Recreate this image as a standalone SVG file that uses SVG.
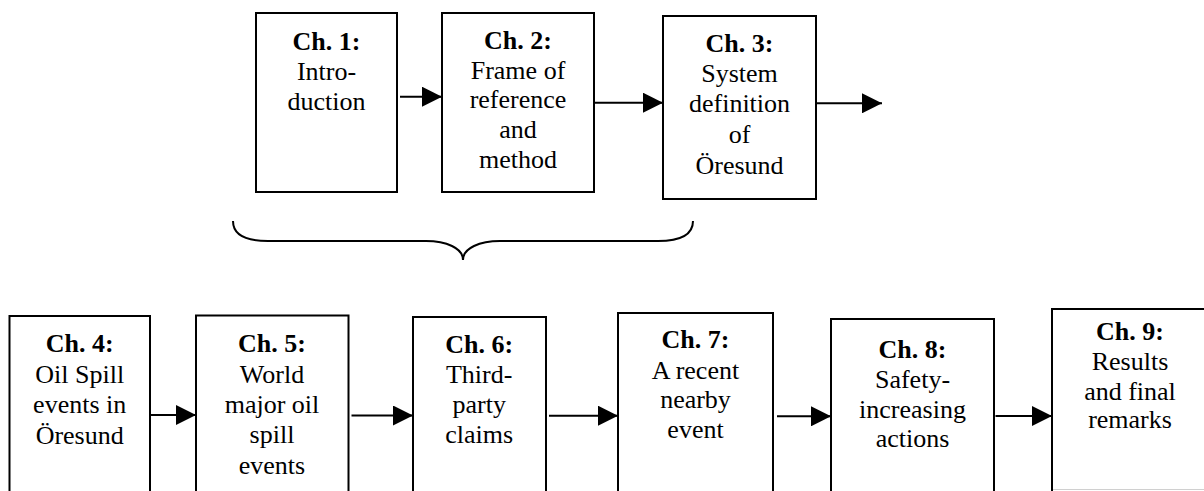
<svg xmlns="http://www.w3.org/2000/svg" width="1204" height="491" viewBox="0 0 1204 491">
  <defs>
    <marker id="arrow" viewBox="0 0 20 20" refX="20" refY="10" markerWidth="20" markerHeight="20" markerUnits="userSpaceOnUse" orient="auto">
      <path d="M0,0 L20,10 L0,20 Z" fill="#000"/>
    </marker>
    <style>
      .box { fill: #fff; stroke: #000; stroke-width: 2; }
      .lbl { font-family: "Liberation Serif", "Times New Roman", "DejaVu Serif", serif; font-size: 26px; fill: #000; text-anchor: middle; }
      .lbl .hd { font-weight: bold; }
      .conn { stroke: #000; stroke-width: 2; fill: none; }
      .conn line { marker-end: url(#arrow); }
    </style>
  </defs>
  <rect width="1204" height="491" fill="#fff"/>

  <!-- top row -->
  <g id="ch1">
    <rect class="box" x="256" y="13" width="141" height="179"/>
    <text class="lbl" x="326.5"><tspan class="hd" x="326.5" y="50">Ch. 1:</tspan><tspan x="326.5" y="80">Intro-</tspan><tspan x="326.5" y="110">duction</tspan></text>
  </g>
  <g id="ch2">
    <rect class="box" x="442" y="13" width="152" height="179"/>
    <text class="lbl" x="518"><tspan class="hd" x="518" y="49">Ch. 2:</tspan><tspan x="518" y="79">Frame of</tspan><tspan x="518" y="108">reference</tspan><tspan x="518" y="138">and</tspan><tspan x="518" y="168">method</tspan></text>
  </g>
  <g id="ch3">
    <rect class="box" x="663" y="16" width="153" height="183"/>
    <text class="lbl" x="739.5"><tspan class="hd" x="739.5" y="52">Ch. 3:</tspan><tspan x="739.5" y="82">System</tspan><tspan x="739.5" y="112">definition</tspan><tspan x="739.5" y="143">of</tspan><tspan x="739.5" y="174">Öresund</tspan></text>
  </g>

  <!-- bottom row -->
  <g id="ch4">
    <rect class="box" x="9.5" y="316" width="140.5" height="190"/>
    <text class="lbl" x="79.7"><tspan class="hd" x="79.7" y="352">Ch. 4:</tspan><tspan x="79.7" y="383">Oil Spill</tspan><tspan x="79.7" y="413">events in</tspan><tspan x="79.7" y="444">Öresund</tspan></text>
  </g>
  <g id="ch5">
    <rect class="box" x="196" y="315.5" width="152.5" height="190"/>
    <text class="lbl" x="272"><tspan class="hd" x="272" y="352">Ch. 5:</tspan><tspan x="272" y="383">World</tspan><tspan x="272" y="413">major oil</tspan><tspan x="272" y="443">spill</tspan><tspan x="272" y="474">events</tspan></text>
  </g>
  <g id="ch6">
    <rect class="box" x="413" y="317" width="133" height="190"/>
    <text class="lbl" x="479.2"><tspan class="hd" x="479.2" y="353">Ch. 6:</tspan><tspan x="479.2" y="383">Third-</tspan><tspan x="479.2" y="413">party</tspan><tspan x="479.2" y="443">claims</tspan></text>
  </g>
  <g id="ch7">
    <rect class="box" x="618" y="313" width="155" height="190"/>
    <text class="lbl" x="695.5"><tspan class="hd" x="695.5" y="348">Ch. 7:</tspan><tspan x="695.5" y="379">A recent</tspan><tspan x="695.5" y="408">nearby</tspan><tspan x="695.5" y="438">event</tspan></text>
  </g>
  <g id="ch8">
    <rect class="box" x="831" y="319" width="163" height="190"/>
    <text class="lbl" x="912.5"><tspan class="hd" x="912.5" y="358">Ch. 8:</tspan><tspan x="912.5" y="388">Safety-</tspan><tspan x="912.5" y="418">increasing</tspan><tspan x="912.5" y="447">actions</tspan></text>
  </g>
  <g id="ch9">
    <rect class="box" x="1052" y="309" width="160" height="200"/>
    <line x1="1053" y1="489.5" x2="1204" y2="489.5" stroke="#d0d0d0" stroke-width="1"/>
    <text class="lbl" x="1130"><tspan class="hd" x="1130" y="340">Ch. 9:</tspan><tspan x="1130" y="370">Results</tspan><tspan x="1130" y="400">and final</tspan><tspan x="1130" y="428">remarks</tspan></text>
  </g>

  <!-- connectors -->
  <g id="connectors" class="conn">
    <line x1="400" y1="96.7" x2="442" y2="96.7"/>
    <line x1="594" y1="102.7" x2="663" y2="102.7"/>
    <line x1="816" y1="103.3" x2="882" y2="103.3"/>
    <line x1="150" y1="415" x2="196" y2="415"/>
    <line x1="351.5" y1="415.5" x2="413" y2="415.5"/>
    <line x1="549" y1="415.7" x2="618" y2="415.7"/>
    <line x1="777" y1="416.3" x2="831" y2="416.3"/>
    <line x1="995.5" y1="416" x2="1052" y2="416"/>
    <!-- brace grouping chapters 1-3 -->
    <path d="M233,221 C233,236 248,241 268,241 L426,241 C446,241 463,248 463,260 C463,248 480,241 500,241 L658,241 C678,241 693,236 693,221"/>
  </g>
</svg>
